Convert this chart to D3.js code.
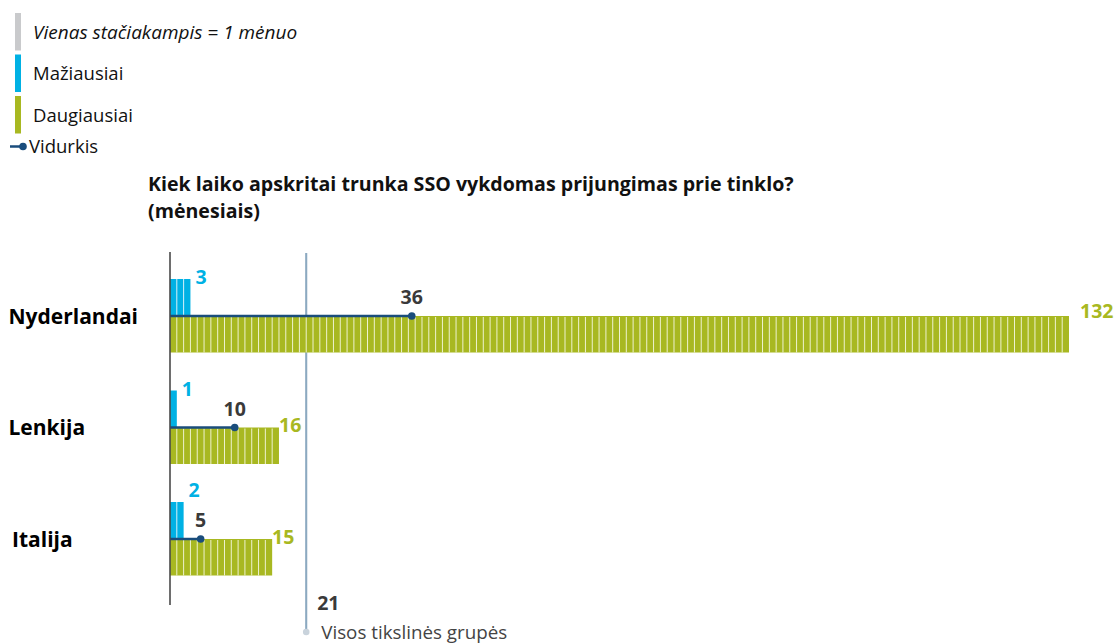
<!DOCTYPE html>
<html>
<head>
<meta charset="utf-8">
<script src="https://cdn.jsdelivr.net/npm/d3@7"></script>
<style>
  html, body { margin: 0; padding: 0; background: #fff; }
  svg { display: block; font-family: "Open Sans", "Noto Sans", sans-serif; }
</style>
</head>
<body>
<svg id="chart" width="1116" height="643"></svg>
<script>
// ---- data ----
const categories = ["Nyderlandai", "Lenkija", "Italija"];
const minValues = [3, 1, 2];
const meanValues = [36, 10, 5];
const maxValues = [132, 16, 15];
const overallMean = 21;
const overallLabel = "Visos tikslinės grupės";
const titleLines = ["Kiek laiko apskritai trunka SSO vykdomas prijungimas prie tinklo?", "(mėnesiais)"];
const legendLabels = ["Vienas stačiakampis = 1 mėnuo", "Mažiausiai", "Daugiausiai", "Vidurkis"];

// ---- styles ----
const cBlue = "#00b1e4", cOlive = "#a8b821", cNavy = "#1a4d7c", cGray = "#c9cacc";
const cText = "#3a3a3a", cRef = "#9fb8cc";

const svg = d3.select("#chart");

// scales
const x = d3.scaleLinear().domain([0, 132]).range([170, 1069]);
const xLab = d3.scaleLinear().domain([0, 132]).range([168.5, 1080]);
const y = d3.scalePoint().domain(categories).range([316, 539]);
const barH = 37;

// ---- legend ----
const lg = svg.append("g");
const legendColors = [cGray, cBlue, cOlive];
legendColors.forEach((c, i) => {
  lg.append("rect").attr("x", 15).attr("y", 13 + i * 41.5).attr("width", 6).attr("height", 37.5).attr("fill", c);
  lg.append("text").attr("x", 33).attr("y", 38.5 + i * 41.8)
    .attr("font-size", i === 0 ? 19 : 18.5).attr("fill", "#111")
    .attr("font-style", i === 0 ? "italic" : "normal")
    .text(legendLabels[i]);
});
lg.append("line").attr("x1", 10).attr("x2", 23).attr("y1", 146.5).attr("y2", 146.5)
  .attr("stroke", cNavy).attr("stroke-width", 2.5);
lg.append("circle").attr("cx", 23).attr("cy", 146.5).attr("r", 3.8).attr("fill", cNavy);
lg.append("text").attr("x", 29).attr("y", 153).attr("font-size", 18.5).attr("fill", "#111").text(legendLabels[3]);

// ---- title ----
svg.append("text").attr("x", 148).attr("y", 190.5)
  .attr("font-size", 19.6).attr("font-weight", 700).attr("fill", "#111")
  .selectAll("tspan").data(titleLines).join("tspan")
  .attr("x", 148).attr("dy", (d, i) => i === 0 ? 0 : 27.5).text(d => d);

// ---- reference line (overall mean) ----
const xr = x(overallMean - 1);
svg.append("line").attr("x1", xr).attr("x2", xr).attr("y1", 253).attr("y2", 632)
  .attr("stroke", cRef).attr("stroke-width", 2.2);
svg.append("line").attr("x1", xr).attr("x2", xr).attr("y1", 253).attr("y2", 632)
  .attr("stroke", "#7d9db6").attr("stroke-width", 0.8);
svg.append("circle").attr("cx", xr).attr("cy", 632).attr("r", 3.3).attr("fill", "#c9d3dc");
svg.append("text").attr("x", xr + 11).attr("y", 609.5).attr("font-size", 19.5).attr("font-weight", 700)
  .attr("fill", cText).text(overallMean);
svg.append("text").attr("x", xr + 15).attr("y", 638.5).attr("font-size", 18.8).attr("fill", "#444")
  .text(overallLabel);

// ---- rows ----
const rows = categories.map((c, i) => ({ cat: c, min: minValues[i], mean: meanValues[i], max: maxValues[i] }));

const g = svg.append("g");
rows.forEach(r => {
  const cy = y(r.cat);
  // max bar (olive cells)
  g.append("rect").attr("x", x(0)).attr("y", cy).attr("width", x(r.max) - x(0)).attr("height", barH - 0.5)
    .attr("fill", cOlive);
  g.selectAll(null).data(d3.range(1, r.max)).join("line")
    .attr("x1", d => x(d)).attr("x2", d => x(d)).attr("y1", cy + 1).attr("y2", cy + barH - 0.5)
    .attr("stroke", "#eef2cf").attr("stroke-width", 1);
  // min bar (blue cells)
  g.append("rect").attr("x", x(0)).attr("y", cy - barH).attr("width", x(r.min) - x(0)).attr("height", barH)
    .attr("fill", cBlue);
  g.selectAll(null).data(d3.range(1, r.min)).join("line")
    .attr("x1", d => x(d)).attr("x2", d => x(d)).attr("y1", cy - barH).attr("y2", cy)
    .attr("stroke", "#d8f1fa").attr("stroke-width", 1);
  // mean line + dot
  const xm = x(r.mean - 0.5);
  g.append("line").attr("x1", x(0)).attr("x2", xm).attr("y1", cy).attr("y2", cy)
    .attr("stroke", cNavy).attr("stroke-width", 2.5);
  g.append("circle").attr("cx", xm).attr("cy", cy).attr("r", 3.8).attr("fill", cNavy);

  // labels
  const meanLabelLeft = xm - 9;
  const minX = x(r.min) + 5;
  const raise = (meanLabelLeft - minX < 12) ? 10 : 0;
  g.append("text").attr("x", minX).attr("y", cy - 32 - raise)
    .attr("font-size", 19.5).attr("font-weight", 700).attr("fill", cBlue).text(r.min);
  g.append("text").attr("x", xm).attr("y", cy - 12).attr("text-anchor", "middle")
    .attr("font-size", 19.5).attr("font-weight", 700).attr("fill", cText).text(r.mean);
  g.append("text").attr("x", xLab(r.max)).attr("y", cy + (r.max > 100 ? 1.5 : 4.5))
    .attr("font-size", 19.5).attr("font-weight", 700).attr("fill", cOlive).text(r.max);

  // category label
  g.append("text").attr("x", r.cat === "Italija" ? 12 : 8.5).attr("y", cy + 7.5)
    .attr("font-size", 21).attr("font-weight", 700).attr("fill", "#000").text(r.cat);
});

// axis line
svg.append("line").attr("x1", x(0)).attr("x2", x(0)).attr("y1", 252).attr("y2", 605)
  .attr("stroke", "#4a4a4a").attr("stroke-width", 1.6);
</script>
</body>
</html>
